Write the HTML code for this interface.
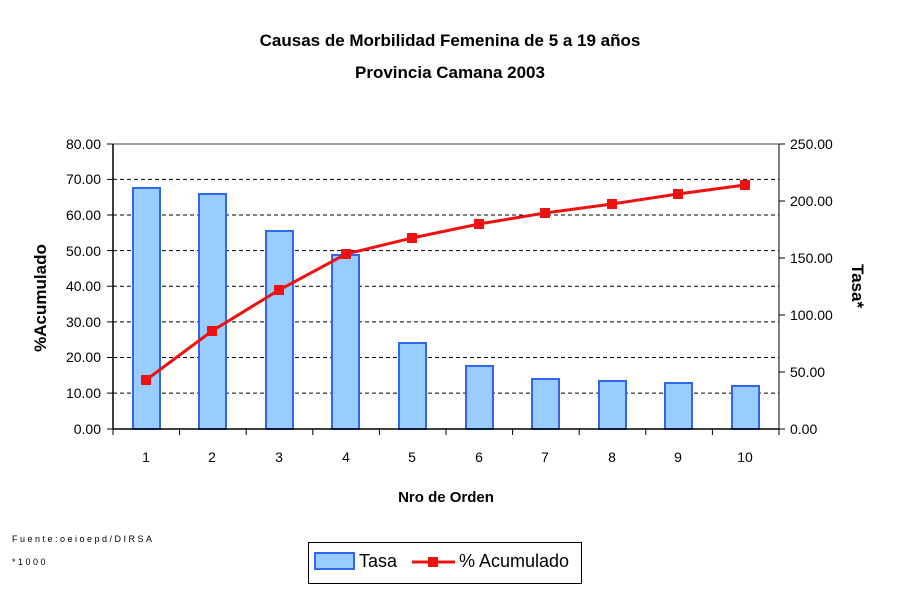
<!DOCTYPE html>
<html><head><meta charset="utf-8"><style>
body{margin:0;background:#fff;}
svg text{font-family:"Liberation Sans",Arial,sans-serif;}
</style></head><body>
<svg width="900" height="600" viewBox="0 0 900 600" xmlns="http://www.w3.org/2000/svg">
<rect width="900" height="600" fill="#fff"/>
<text x="450" y="46" text-anchor="middle" font-size="17" font-weight="bold">Causas de Morbilidad Femenina de 5 a 19 años</text>
<text x="450" y="78" text-anchor="middle" font-size="17" font-weight="bold">Provincia Camana 2003</text>
<g stroke="#000" stroke-width="1" stroke-dasharray="4,3">
<line x1="113" y1="179.4" x2="779" y2="179.4"/>
<line x1="113" y1="215" x2="779" y2="215"/>
<line x1="113" y1="250.6" x2="779" y2="250.6"/>
<line x1="113" y1="286.2" x2="779" y2="286.2"/>
<line x1="113" y1="321.9" x2="779" y2="321.9"/>
<line x1="113" y1="357.5" x2="779" y2="357.5"/>
<line x1="113" y1="393.1" x2="779" y2="393.1"/>
</g>
<line x1="113" y1="144" x2="779" y2="144" stroke="#808080" stroke-width="1.5"/>
<line x1="779" y1="144" x2="779" y2="429" stroke="#000"/>
<g fill="#99ccff" stroke="#3366ee" stroke-width="2">
<rect x="133" y="188" width="27" height="241"/>
<rect x="199" y="194" width="27" height="235"/>
<rect x="266" y="231" width="27" height="198"/>
<rect x="332" y="255" width="27" height="174"/>
<rect x="399" y="343" width="27" height="86"/>
<rect x="466" y="366" width="27" height="63"/>
<rect x="532" y="379" width="27" height="50"/>
<rect x="599" y="381" width="27" height="48"/>
<rect x="665" y="383" width="27" height="46"/>
<rect x="732" y="386" width="27" height="43"/>
</g>
<line x1="113" y1="144" x2="113" y2="429" stroke="#000" stroke-width="1.5"/>
<line x1="113" y1="429" x2="779" y2="429" stroke="#000" stroke-width="1.5"/>
<g stroke="#000">
<line x1="113" y1="429" x2="113" y2="435"/><line x1="179.6" y1="429" x2="179.6" y2="435"/><line x1="246.2" y1="429" x2="246.2" y2="435"/><line x1="312.8" y1="429" x2="312.8" y2="435"/><line x1="379.4" y1="429" x2="379.4" y2="435"/><line x1="446" y1="429" x2="446" y2="435"/><line x1="512.6" y1="429" x2="512.6" y2="435"/><line x1="579.2" y1="429" x2="579.2" y2="435"/><line x1="645.8" y1="429" x2="645.8" y2="435"/><line x1="712.4" y1="429" x2="712.4" y2="435"/><line x1="779" y1="429" x2="779" y2="435"/>
<line x1="107" y1="144" x2="113" y2="144"/><line x1="107" y1="179.4" x2="113" y2="179.4"/><line x1="107" y1="215" x2="113" y2="215"/><line x1="107" y1="250.6" x2="113" y2="250.6"/><line x1="107" y1="286.2" x2="113" y2="286.2"/><line x1="107" y1="321.9" x2="113" y2="321.9"/><line x1="107" y1="357.5" x2="113" y2="357.5"/><line x1="107" y1="393.1" x2="113" y2="393.1"/><line x1="107" y1="429" x2="113" y2="429"/>
<line x1="779" y1="144" x2="785" y2="144"/><line x1="779" y1="201" x2="785" y2="201"/><line x1="779" y1="258" x2="785" y2="258"/><line x1="779" y1="315" x2="785" y2="315"/><line x1="779" y1="372" x2="785" y2="372"/><line x1="779" y1="429" x2="785" y2="429"/>
</g>
<polyline fill="none" stroke="#ee1111" stroke-width="3" points="146,380 212,331 279,290 346,254 412,238 479,224 545,213 612,204 678,194 745,185"/>
<g fill="#ee1111">
<rect x="141" y="375" width="10" height="10"/><rect x="207" y="326" width="10" height="10"/><rect x="274" y="285" width="10" height="10"/><rect x="341" y="249" width="10" height="10"/><rect x="407" y="233" width="10" height="10"/><rect x="474" y="219" width="10" height="10"/><rect x="540" y="208" width="10" height="10"/><rect x="607" y="199" width="10" height="10"/><rect x="673" y="189" width="10" height="10"/><rect x="740" y="180" width="10" height="10"/>
</g>
<g font-size="14" text-anchor="end">
<text x="101" y="149">80.00</text><text x="101" y="184">70.00</text><text x="101" y="220">60.00</text><text x="101" y="256">50.00</text><text x="101" y="291">40.00</text><text x="101" y="327">30.00</text><text x="101" y="362">20.00</text><text x="101" y="398">10.00</text><text x="101" y="434">0.00</text>
</g>
<g font-size="14">
<text x="790" y="149">250.00</text><text x="790" y="206">200.00</text><text x="790" y="263">150.00</text><text x="790" y="320">100.00</text><text x="790" y="377">50.00</text><text x="790" y="434">0.00</text>
</g>
<g font-size="14" text-anchor="middle">
<text x="146" y="462">1</text><text x="212" y="462">2</text><text x="279" y="462">3</text><text x="346" y="462">4</text><text x="412" y="462">5</text><text x="479" y="462">6</text><text x="545" y="462">7</text><text x="612" y="462">8</text><text x="678" y="462">9</text><text x="745" y="462">10</text>
</g>
<text x="446" y="502" text-anchor="middle" font-size="15" font-weight="bold">Nro de Orden</text>
<text transform="translate(46,298) rotate(-90)" text-anchor="middle" font-size="17" font-weight="bold">%Acumulado</text>
<text transform="translate(852,286) rotate(90)" text-anchor="middle" font-size="17" font-weight="bold">Tasa*</text>
<text x="12" y="542" font-size="9" letter-spacing="2.5">Fuente:oeioepd/DIRSA</text>
<text x="12" y="565" font-size="9" letter-spacing="2.5">*1000</text>
<rect x="308.5" y="542.5" width="273" height="41" fill="#fff" stroke="#000"/>
<rect x="315" y="553" width="39" height="16" fill="#99ccff" stroke="#3366ee" stroke-width="2"/>
<text x="359" y="567" font-size="18">Tasa</text>
<line x1="412" y1="562" x2="455" y2="562" stroke="#ee1111" stroke-width="3"/>
<rect x="428" y="557" width="10" height="10" fill="#ee1111"/>
<text x="459" y="567" font-size="18">% Acumulado</text>
</svg>
</body></html>
